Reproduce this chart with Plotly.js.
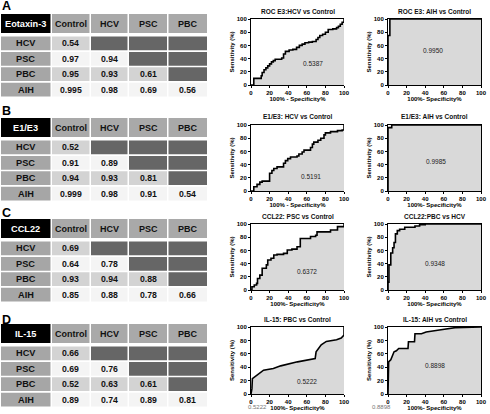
<!DOCTYPE html>
<html><head><meta charset="utf-8">
<script src="https://cdn.plot.ly/plotly-3.0.1.min.js"></script>
<style>html,body{margin:0;padding:0;background:#fff}#chart{width:490px;height:414px}</style>
</head><body><div id="chart"></div>
<script>
// ---------- table data ----------
const panelLetters = ["A", "B", "C", "D"];
const markerNames = ["Eotaxin-3", "E1/E3", "CCL22", "IL-15"];
const colLabels = ["Control", "HCV", "PSC", "PBC"];
const rowLabels = ["HCV", "PSC", "PBC", "AIH"];
const aucEotaxin3 = [[0.54], [0.97, 0.94], [0.95, 0.93, 0.61], [0.995, 0.98, 0.69, 0.56]];
const aucE1E3     = [[0.52], [0.91, 0.89], [0.94, 0.93, 0.81], [0.999, 0.98, 0.91, 0.54]];
const aucCCL22    = [[0.69], [0.64, 0.78], [0.93, 0.94, 0.88], [0.85, 0.88, 0.78, 0.66]];
const aucIL15     = [[0.66], [0.69, 0.76], [0.52, 0.63, 0.61], [0.89, 0.74, 0.89, 0.81]];

// ---------- ROC curve data (x = 100% - specificity, y = sensitivity %) ----------
const rocTitles = ["ROC E3:HCV vs Control", "ROC E3: AIH vs Control",
                   "E1/E3: HCV vs Control", "E1/E3: AIH vs Control",
                   "CCL22: PSC vs Control", "CCL22:PBC vs HCV",
                   "IL-15: PBC vs Control", "IL-15: AIH vs Control"];
const rocAUC = [0.5387, 0.9950, 0.5191, 0.9985, 0.6372, 0.9348, 0.5222, 0.8898];
const xTitles = ["100% - Specificity%", "100%- Specificity%", "100% - Specificity%", "100%- Specificity%",
                 "100%- Specificity%", "100%- Specificity%", "100%- Specificity%", "100%- Specificity%"];
const axisTicks = [0, 20, 40, 60, 80, 100];

const rocA1x = [0, 3, 11, 12, 14, 16, 18, 20, 22, 24, 26, 33, 35, 37, 41, 45, 49, 52, 55, 58, 62, 66, 70, 72, 74, 77, 80, 83, 88, 92, 94, 96, 98, 100];
const rocA1y = [0, 10, 14, 19, 23, 26, 29, 32, 35, 37, 39, 41, 47, 51, 53, 54, 57, 60, 62, 64, 65, 66, 69, 72, 75, 77, 80, 84, 85, 87, 89, 92, 95, 100];
const rocA2x = [0, 0, 2, 100];
const rocA2y = [0, 75, 100, 100];
const rocB1x = [0, 3, 6.5, 9.5, 12, 20, 22.5, 24.5, 28, 35, 37, 39.5, 42.5, 49.5, 51.5, 55, 57, 64, 66, 67.5, 72, 75, 78.5, 80, 85.5, 93, 98, 100];
const rocB1y = [0, 6.5, 10, 13.5, 15, 27, 31, 34, 36.5, 42, 46, 49, 51.5, 53, 56, 59, 62, 66, 71, 74, 77, 80, 85, 88, 90, 91.5, 92.5, 100];
const rocB2x = [0, 0, 4, 100];
const rocB2y = [0, 96, 100, 100];
const rocC1x = [0, 1, 3.5, 6, 7, 9.5, 12, 16.5, 18, 21.5, 24.5, 28, 35, 39, 44, 49.5, 53, 64, 69.5, 71, 85.5, 93, 100];
const rocC1y = [0, 5, 7.5, 10, 17.5, 22.5, 33, 38, 45.5, 48, 53, 54, 55.5, 60.5, 62, 65.5, 78, 81, 83, 88, 91, 96, 100];
const rocC2x = [0, 0, 1, 3, 5, 6.5, 8, 10, 12.5, 18, 29, 34, 40, 100];
const rocC2y = [0, 12, 38, 56, 64, 72, 85, 90, 92, 95, 97, 99, 100, 100];
const rocD1x = [0, 1, 1.5, 13.5, 24, 32, 50, 69, 70, 75.5, 81, 92, 97, 99, 100, 100];
const rocD1y = [0, 8, 23, 35.5, 38, 42, 48, 53, 63, 73.5, 78.5, 81, 83.5, 86, 88, 100];
const rocD2x = [0, 0, 0.7, 3, 4.3, 6.5, 9, 11.5, 21.5, 22, 28.5, 29, 36, 41, 57, 72, 100];
const rocD2y = [0, 38, 48, 51, 56, 63, 64.5, 68, 68, 78, 78, 90, 90, 92.5, 96, 99, 100];

const rocX = [rocA1x, rocA2x, rocB1x, rocB2x, rocC1x, rocC2x, rocD1x, rocD2x];
const rocY = [rocA1y, rocA2y, rocB1y, rocB2y, rocC1y, rocC2y, rocD1y, rocD2y];
const rocShape = ["hv", "hv", "hv", "hv", "hv", "hv", "linear", "linear"];
const footNotes = ["0.5222", "0.8898"];

// ---------- layout helpers ----------
const W = 490, H = 414;
const FONT = "Liberation Sans, Arial, Helvetica, sans-serif";
const px = x => x / W, py = y => 1 - y / H;
const shapes = [], annotations = [];
function rect(x0, y0, x1, y1, color) {
  shapes.push({type: "rect", xref: "paper", yref: "paper", x0: px(x0), x1: px(x1), y0: py(y1), y1: py(y0),
               fillcolor: color, line: {width: 0}, layer: "below"});
}
function label(x, y, t, size, color, bold) {
  annotations.push({xref: "paper", yref: "paper", x: px(x), y: py(y), text: t, showarrow: false,
                    xanchor: "center", yanchor: "middle",
                    font: {family: FONT, size: size, color: color, weight: bold ? "bold" : "normal"}});
}

// ---------- tables ----------
const tables = [aucEotaxin3, aucE1E3, aucCCL22, aucIL15];
const tableTop = [14, 118, 219, 324];
const letterY = [6, 111.5, 213.5, 319.5];
const colX = [[1, 50.5], [52, 89.5], [91, 127.5], [129, 167], [168.5, 207]];
tables.forEach((tab, p) => {
  const T = tableTop[p];
  label(6, letterY[p], panelLetters[p], 12.5, "#000", true);
  // header
  rect(colX[0][0], T, colX[0][1], T + 19, "#000000");
  label((colX[0][0] + colX[0][1]) / 2, T + 9.5, markerNames[p], 9.2, "#fff", true);
  colLabels.forEach((c, j) => {
    const cx = colX[j + 1];
    rect(cx[0], T, cx[1], T + 19, "#a9a9a9");
    label((cx[0] + cx[1]) / 2, T + 9.5, c, 9, "#111", true);
  });
  rowLabels.forEach((r, i) => {
    const y0 = T + 22.5 + i * 15.4, y1 = y0 + 13.8;
    rect(colX[0][0], y0, colX[0][1], y1, "#a6a6a6");
    label((colX[0][0] + colX[0][1]) / 2, (y0 + y1) / 2, r, 9.2, "#111", true);
    for (let j = 0; j < 4; j++) {
      const cx = colX[j + 1];
      if (j < tab[i].length) {
        rect(cx[0], y0, cx[1], y1, i % 2 === 0 ? "#d3d3d3" : "#f4f4f4");
        label((cx[0] + cx[1]) / 2, (y0 + y1) / 2, String(tab[i][j]), 8.7, "#111", true);
      } else {
        rect(cx[0], y0, cx[1], y1, "#666666");
      }
    }
  });
});

// ---------- ROC subplots ----------
const plotXpx = [[251, 344], [388, 481]];
const plotYpx = [[19, 85], [125, 191], [224, 290], [327, 394]];
const aucPos = [[67, 33], [48, 52], [65, 22], [52, 45], [60, 28], [50, 40], [60, 18], [50, 42]];
const layout = {
  width: W, height: H, margin: {l: 0, r: 0, t: 0, b: 0},
  paper_bgcolor: "#fff", plot_bgcolor: "rgba(0,0,0,0)", showlegend: false,
  font: {family: FONT, color: "#000"}, shapes: shapes, annotations: annotations
};
const traces = [];
for (let k = 0; k < 8; k++) {
  const row = Math.floor(k / 2), col = k % 2;
  const sx = k === 0 ? "" : String(k + 1);
  const xp = plotXpx[col], yp = plotYpx[row];
  const common = {
    range: [0, 100], tickvals: axisTicks, ticktext: axisTicks.map(String),
    ticks: "outside", ticklen: 2, tickwidth: 1, tickcolor: "#000",
    showline: true, linecolor: "#000", linewidth: 1, showgrid: false, zeroline: false,
    tickfont: {family: FONT, size: 6, color: "#000", weight: "bold"}, fixedrange: true
  };
  layout["xaxis" + sx] = Object.assign({}, common, {
    domain: [px(xp[0]), px(xp[1])], anchor: "y" + sx, mirror: true,
    title: {text: xTitles[k], font: {family: FONT, size: 6, weight: "bold"}, standoff: 1}
  });
  layout["yaxis" + sx] = Object.assign({}, common, {
    domain: [py(yp[1]), py(yp[0])], anchor: "x" + sx, mirror: col === 1,
    title: {text: "Sensitivity (%)", font: {family: FONT, size: 6, weight: "bold"}, standoff: 1}
  });
  traces.push({
    type: "scatter", mode: "lines", x: rocX[k], y: rocY[k], xaxis: "x" + sx, yaxis: "y" + sx,
    line: {color: "#000", width: 1.6, shape: rocShape[k]}, fill: "tozeroy", fillcolor: "#d9d9d9",
    hoverinfo: "skip"
  });
  annotations.push({xref: "x" + sx, yref: "y" + sx, x: aucPos[k][0], y: aucPos[k][1],
    text: rocAUC[k].toFixed(4), showarrow: false,
    font: {family: FONT, size: 6.5, color: "#222"}});
  label((xp[0] + xp[1]) / 2, yp[0] - 8, rocTitles[k], 6.5, "#111", true);
}
label(257.5, 407, footNotes[0], 6, "#777", false);
label(381.5, 407, footNotes[1], 6, "#777", false);

Plotly.newPlot("chart", traces, layout, {displayModeBar: false, staticPlot: true});
</script>
</body></html>
